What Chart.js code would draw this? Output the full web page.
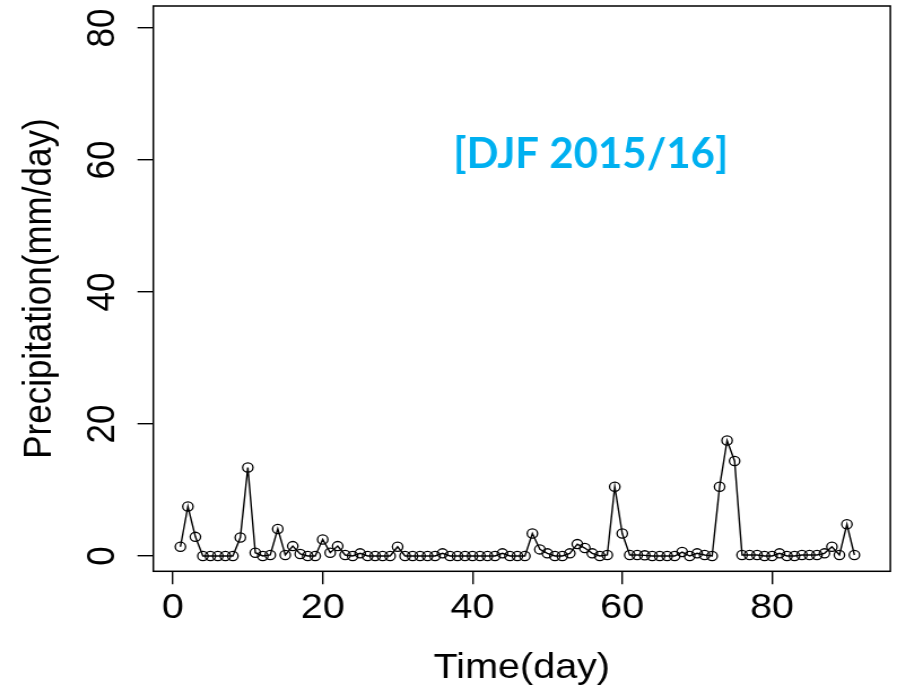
<!DOCTYPE html>
<html>
<head>
<meta charset="utf-8">
<script src="https://cdn.jsdelivr.net/npm/chart.js@4.4.1/dist/chart.umd.min.js"></script>
<style>
  html, body { margin: 0; padding: 0; background: #fff; overflow: hidden; }
  #chart { display: block; }
</style>
</head>
<body>
<!-- the original plot is stretched sideways, so the canvas is drawn narrower and widened by css -->
<canvas id="chart" width="794" height="691" style="width:897px;height:691px"></canvas>
<script>
/* ---- data ---- */
const days = [
  1, 2, 3, 4, 5, 6, 7, 8, 9, 10, 11, 12, 13, 14, 15, 16, 17, 18, 19, 20,
  21, 22, 23, 24, 25, 26, 27, 28, 29, 30, 31, 32, 33, 34, 35, 36, 37, 38, 39, 40,
  41, 42, 43, 44, 45, 46, 47, 48, 49, 50, 51, 52, 53, 54, 55, 56, 57, 58, 59, 60,
  61, 62, 63, 64, 65, 66, 67, 68, 69, 70, 71, 72, 73, 74, 75, 76, 77, 78, 79, 80,
  81, 82, 83, 84, 85, 86, 87, 88, 89, 90, 91
];
const precip = [
  1.4, 7.5, 2.9, 0, 0, 0, 0, 0, 2.8, 13.4, 0.5, 0, 0.15, 4.1, 0.15, 1.5, 0.3, 0, 0, 2.5,
  0.5, 1.5, 0.15, 0, 0.4, 0, 0, 0, 0, 1.4, 0, 0, 0, 0, 0, 0.4, 0, 0, 0, 0,
  0, 0, 0, 0.4, 0, 0, 0, 3.4, 1.0, 0.4, 0, 0, 0.4, 1.8, 1.2, 0.4, 0, 0.15, 10.5, 3.4,
  0.15, 0.15, 0.1, 0, 0, 0, 0, 0.6, 0, 0.4, 0.15, 0, 10.5, 17.5, 14.4, 0.15, 0.15, 0.15, 0, 0,
  0.4, 0, 0, 0.15, 0.15, 0.15, 0.4, 1.4, 0.15, 4.8, 0.15
];
const xTicks = [0, 20, 40, 60, 80];
const yTicks = [0, 20, 40, 60, 80];
const labelText = '[DJF 2015/16]';
const labelAt = { x: 55.8, y: 58.8 };   // data coords of the label baseline centre

const STRETCH = 897 / 794;
const FONT = '"Liberation Sans", Arial, sans-serif';

/* draws the frame, the rotated y tick labels and the blue season label */
const framePlugin = {
  id: 'frame',
  afterDraw(chart) {
    const { ctx, chartArea: a, scales } = chart;
    ctx.save();
    ctx.strokeStyle = '#000';
    ctx.lineWidth = 1.5;
    ctx.strokeRect(a.left, a.top, a.right - a.left, a.bottom - a.top);

    ctx.fillStyle = '#000';
    ctx.font = '35px ' + FONT;
    ctx.textAlign = 'center';
    ctx.textBaseline = 'alphabetic';
    scales.y.ticks.forEach(t => {
      const py = scales.y.getPixelForValue(t.value);
      ctx.save();
      ctx.translate(101, py);
      ctx.rotate(-Math.PI / 2);
      ctx.fillText(String(t.value), 0, 0);
      ctx.restore();
    });

    // label is not stretched in the original, undo the css widening
    const lx = scales.x.getPixelForValue(labelAt.x);
    const ly = scales.y.getPixelForValue(labelAt.y);
    ctx.scale(1 / STRETCH, 1);
    ctx.font = 'bold 42px Lato, "Open Sans", sans-serif';
    ctx.fillStyle = '#00B0F0';
    ctx.fillText(labelText, lx * STRETCH, ly);
    ctx.restore();
  }
};

new Chart(document.getElementById('chart'), {
  type: 'line',
  data: {
    datasets: [{
      data: days.map((d, i) => ({ x: d, y: precip[i] })),
      borderColor: '#000',
      borderWidth: 1.4,
      pointRadius: 4.6,
      pointBorderWidth: 1.3,
      pointBorderColor: '#000',
      pointBackgroundColor: 'rgba(0,0,0,0)',
      tension: 0,
      fill: false
    }]
  },
  options: {
    responsive: false,
    animation: false,
    events: [],
    layout: { padding: { left: 0, right: 4.7, top: 6, bottom: 0 } },
    plugins: { legend: { display: false }, tooltip: { enabled: false } },
    scales: {
      x: {
        type: 'linear',
        min: -2.62,
        max: 95.8,
        afterBuildTicks: s => { s.ticks = xTicks.map(v => ({ value: v })); },
        afterFit: s => { s.height = 119.7; },
        border: { display: false },
        grid: { drawOnChartArea: false, drawTicks: true, tickLength: 13, color: '#000', lineWidth: 1.4 },
        ticks: { color: '#000', font: { family: FONT, size: 35 }, padding: 3, maxRotation: 0 },
        title: { display: true, text: 'Time(day)', color: '#000', font: { family: FONT, size: 35 }, padding: { top: 0, bottom: 2 } }
      },
      y: {
        type: 'linear',
        min: -2.32,
        max: 83.33,
        afterBuildTicks: s => { s.ticks = yTicks.map(v => ({ value: v })); },
        afterFit: s => { s.width = 135.7; },
        border: { display: false },
        grid: { drawOnChartArea: false, drawTicks: true, tickLength: 14, color: '#000', lineWidth: 1.4 },
        ticks: { display: false },
        title: { display: true, text: 'Precipitation(mm/day)', color: '#000', font: { family: FONT, size: 35 }, padding: { top: 14, bottom: 0 } }
      }
    }
  },
  plugins: [framePlugin]
});
</script>
</body>
</html>
